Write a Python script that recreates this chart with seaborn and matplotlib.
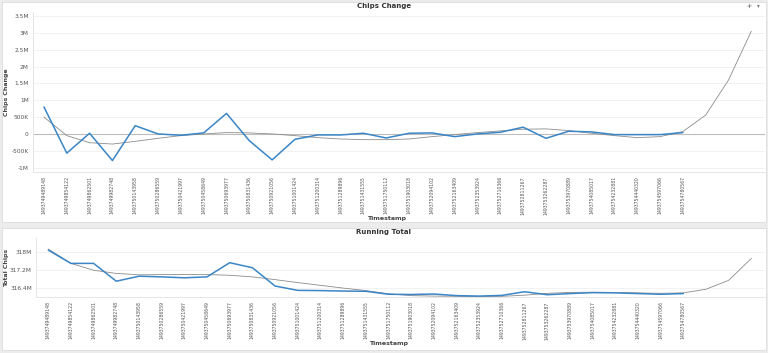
import numpy as np
import pandas as pd
import matplotlib
matplotlib.use("Agg")
import matplotlib.pyplot as plt
from matplotlib.ticker import FuncFormatter
import seaborn as sns

# timestamps (x categories)
timestamps = [
    "1493749489148", "1493749854122", "1493749862501", "1493749982748",
    "1493750143958", "1493750286559", "1493750421997", "1493750458649",
    "1493750693977", "1493750831436", "1493750921056", "1493751001424",
    "1493751200314", "1493751289896", "1493751431555", "1493751750112",
    "1493751903018", "1493752094102", "1493752163409", "1493752353924",
    "1493752710366", "1493752811267", "1493753262287", "1493753970889",
    "1493754085017", "1493754232881", "1493754440320", "1493754597066",
    "1493754780567",
]

# chips change per timestamp
chips_change = [
    800000, -570000, 20000, -790000, 245000, 0, -40000, 30000,
    610000, -200000, -770000, -160000, -30000, -30000, 20000, -120000,
    20000, 30000, -80000, 0, 50000, 200000, -130000, 80000,
    60000, -20000, -20000, -20000, 40000,
]

# running total of chips
running_total = [
    318.07e6, 317.49e6, 317.49e6, 316.71e6, 316.93e6, 316.90e6, 316.86e6, 316.90e6,
    317.52e6, 317.30e6, 316.50e6, 316.31e6, 316.30e6, 316.28e6, 316.27e6, 316.14e6,
    316.13e6, 316.15e6, 316.08e6, 316.06e6, 316.09e6, 316.25e6, 316.12e6, 316.17e6,
    316.21e6, 316.20e6, 316.17e6, 316.14e6, 316.17e6,
]

# trend lines (include 3 forecast periods)
change_trend = [
    500000, -50000, -260000, -300000, -220000, -130000, -50000, 0,
    40000, 30000, 0, -50000, -110000, -150000, -170000, -170000,
    -150000, -80000, -20000, 40000, 90000, 140000, 150000, 100000,
    20000, -50000, -110000, -80000, 70000, 560000, 1600000, 3050000,
]
total_trend = [
    318.12e6, 317.49e6, 317.19e6, 317.05e6, 316.99e6, 317.00e6, 317.00e6, 317.00e6,
    316.97e6, 316.90e6, 316.78e6, 316.65e6, 316.53e6, 316.41e6, 316.30e6, 316.16e6,
    316.08e6, 316.06e6, 316.05e6, 316.04e6, 316.05e6, 316.10e6, 316.18e6, 316.22e6,
    316.23e6, 316.22e6, 316.20e6, 316.18e6, 316.20e6, 316.36e6, 316.75e6, 317.71e6,
]

W, H = 768, 353
BLUE = "#3a86c6"
GREY = "#8c8c8c"

sns.set_theme(style="white")
plt.rcParams["font.family"] = ["DejaVu Sans"]

df = pd.DataFrame({"idx": np.arange(len(timestamps)), "change": chips_change, "total": running_total})
tr = pd.DataFrame({"idx": np.arange(len(change_trend)), "change": change_trend, "total": total_trend})

fig = plt.figure(figsize=(W / 100, H / 100), dpi=100, facecolor="#ececec")


def px_axes(left, top, right, bottom):
    return fig.add_axes([left / W, 1 - bottom / H, (right - left) / W, (bottom - top) / H])


# panel backgrounds
for (t, b) in [(2, 222), (228, 350)]:
    fig.patches.append(plt.Rectangle((2 / W, 1 - b / H), (W - 4) / W, (b - t) / H,
                                     transform=fig.transFigure, facecolor="white",
                                     edgecolor="#dcdcdc", lw=0.6, zorder=-10))


def fmt_change(v, _):
    if v == 0:
        return "0"
    if abs(v) >= 1e6:
        s = f"{v / 1e6:.1f}".rstrip("0").rstrip(".")
        return s + "M"
    return f"{v / 1e3:.0f}K"


def fmt_total(v, _):
    s = f"{v / 1e6:.1f}".rstrip("0").rstrip(".")
    return s + "M"


def style_axis(ax, xl, xr, ylab, ylab_x, xlab_y):
    ax.set_xlim(xl, xr)
    ax.set_xticks(range(len(timestamps)))
    ax.set_xticklabels(timestamps, rotation=90, fontsize=3.3, color="#555555")
    ax.tick_params(axis="both", length=0, pad=3)
    ax.tick_params(axis="y", labelsize=4.2, labelcolor="#555555")
    ax.grid(axis="y", color="#f0f0f0", lw=0.6)
    ax.set_axisbelow(True)
    for s in ["top", "right"]:
        ax.spines[s].set_visible(False)
    for s in ["left", "bottom"]:
        ax.spines[s].set_color("#e2e2e2")
        ax.spines[s].set_linewidth(0.6)
    ax.set_xlabel("Timestamp", fontsize=4.5, fontweight="bold", color="#444444", va="center")
    ax.xaxis.set_label_coords(0.483, xlab_y)
    ax.set_ylabel(ylab, fontsize=4.5, fontweight="bold", color="#444444", va="center")
    ax.yaxis.set_label_coords(ylab_x, 0.5)


# --- top: Chips Change ---
ax1 = px_axes(33, 12, 765, 172)
ax1.axhline(0, color="#bdbdbd", lw=0.8, zorder=1)
sns.lineplot(data=tr, x="idx", y="change", ax=ax1, color=GREY, lw=0.6, zorder=2)
sns.lineplot(data=df, x="idx", y="change", ax=ax1, color=BLUE, lw=1.1, zorder=3)
ax1.set_ylim(-1.13e6, 3.62e6)
ax1.set_yticks(np.arange(-1e6, 3.51e6, 5e5))
ax1.yaxis.set_major_formatter(FuncFormatter(fmt_change))
style_axis(ax1, -0.48, 31.6, "Chips Change", (7 - 33) / 732, (172 - 219) / 160)
fig.text(384 / W, 1 - 6 / H, "Chips Change", ha="center", va="center",
         fontsize=5, fontweight="bold", color="#333333")
# expand icon (drawn as a small double arrow) and dropdown caret
fig.add_artist(matplotlib.patches.FancyArrowPatch(
    (747 / W, 1 - 8.5 / H), (752 / W, 1 - 3.5 / H), transform=fig.transFigure,
    arrowstyle="<->,head_length=1.2,head_width=0.9", color="#777777", lw=0.5))
fig.text(758 / W, 1 - 6 / H, "\u25be", ha="center", va="center",
         fontsize=4, color="#777777")

# --- bottom: Running Total ---
ax2 = px_axes(36, 238, 765, 297)
sns.lineplot(data=tr, x="idx", y="total", ax=ax2, color=GREY, lw=0.6, zorder=2)
sns.lineplot(data=df, x="idx", y="total", ax=ax2, color=BLUE, lw=1.1, zorder=3)
ax2.set_ylim(316.02e6, 318.6e6)
ax2.set_yticks([316.4e6, 317.2e6, 318.0e6])
ax2.yaxis.set_major_formatter(FuncFormatter(fmt_total))
style_axis(ax2, -0.54, 31.6, "Total Chips", (7 - 36) / 729, (297 - 344) / 59)
fig.text(384 / W, 1 - 232 / H, "Running Total", ha="center", va="center",
         fontsize=5, fontweight="bold", color="#333333")

fig.savefig("out.png", dpi=100, facecolor=fig.get_facecolor())
